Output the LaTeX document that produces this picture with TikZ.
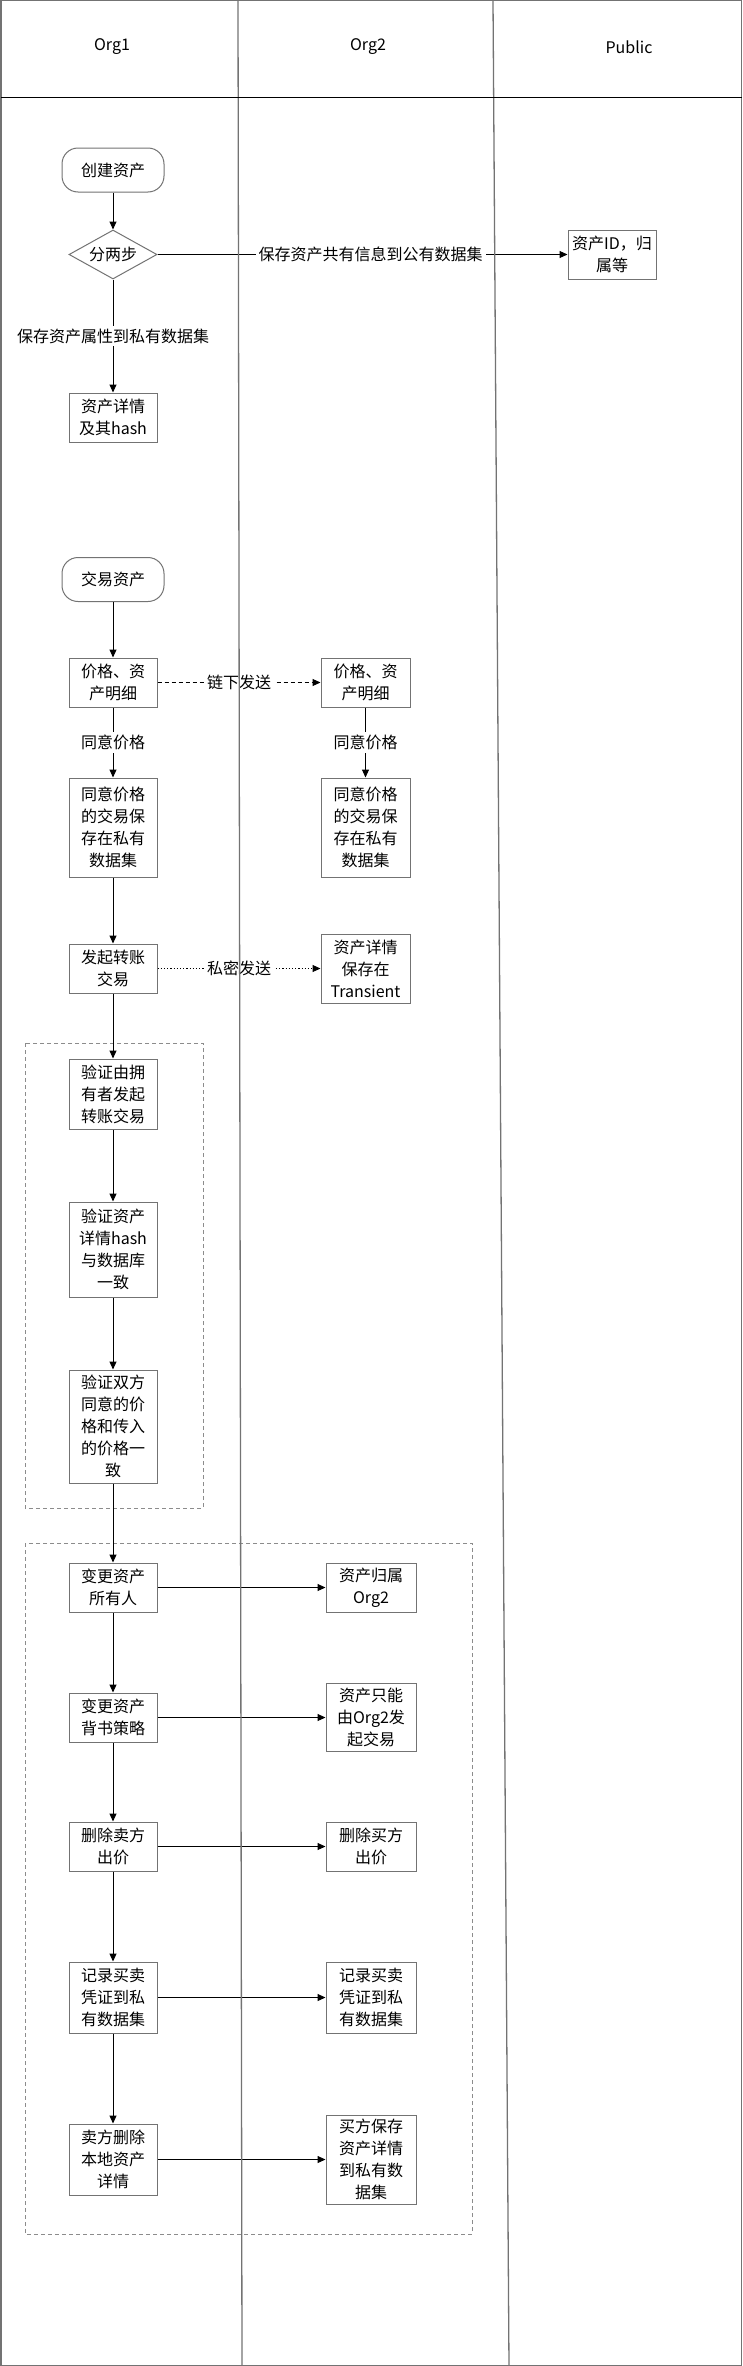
\documentclass[tikz,border=0pt]{standalone}
\usepackage{fontspec}
\setmainfont{Noto Sans CJK SC}
\usetikzlibrary{positioning}
\usetikzlibrary{arrows.meta}
\usetikzlibrary{shapes}

\begin{document}
\begin{tikzpicture}[x=1pt,y=-1pt,>={Triangle[length=8pt,width=7pt]},line width=1pt,
  task node/.style={rectangle,draw=black!55,fill=white,minimum width=88pt,align=center,inner sep=0pt,font=\fontsize{16pt}{22pt}\selectfont},
  start node/.style={task node,rounded corners=16pt,minimum width=102pt,minimum height=44pt},
  split node/.style={diamond,draw=black!55,fill=white,inner sep=0pt,aspect=1.8,minimum width=88pt,minimum height=49pt,font=\fontsize{16pt}{22pt}\selectfont},
  label node/.style={fill=white,inner sep=3pt,font=\fontsize{16pt}{22pt}\selectfont},
  group box/.style={draw=black!45,dash pattern=on 4pt off 3pt,line width=0.8pt},
  lane/.style={draw=black!55,line width=1.3pt}]
  \useasboundingbox (0,0) rectangle (743,2366);

  % dashed groups
  \draw[group box] (25,1043) rectangle (203,1508);
  \draw[group box] (25,1543) rectangle (472,2234);

  % create asset
  \node[start node] (create) at (113,170) {创建资产};
  \node[split node] (split) at (113,254.5) {分两步};
  \node[task node,minimum height=49pt] (pub) at (612,254.5) {资产ID，归\\属等};
  \node[task node,minimum height=49pt] (hash) at (113,417.5) {资产详情\\及其hash};

  % trade asset
  \node[start node] (trade) at (113,579.5) {交易资产};
  \node[task node,minimum height=49pt] (price1) at (113,682.5) {价格、资\\产明细};
  \node[task node,minimum height=49pt,minimum width=89pt] (price2) at (365.5,682.5) {价格、资\\产明细};
  \node[task node,minimum height=99pt] (agree1) at (113,827.5) {同意价格\\的交易保\\存在私有\\数据集};
  \node[task node,minimum height=99pt,minimum width=89pt] (agree2) at (365.5,827.5) {同意价格\\的交易保\\存在私有\\数据集};
  \node[task node,minimum height=49pt] (transfer) at (113,968.5) {发起转账\\交易};
  \node[task node,minimum height=69pt,minimum width=89pt] (transient) at (365.5,968.5) {资产详情\\保存在\\Transient};

  % checks
  \node[task node,minimum height=70pt] (check1) at (113,1094) {验证由拥\\有者发起\\转账交易};
  \node[task node,minimum height=95pt] (check2) at (113,1249.5) {验证资产\\详情hash\\与数据库\\一致};
  \node[task node,minimum height=113pt] (check3) at (113,1426.5) {验证双方\\同意的价\\格和传入\\的价格一\\致};

  % updates
  \node[task node,minimum height=49pt] (owner1) at (113,1587.5) {变更资产\\所有人};
  \node[task node,minimum height=49pt,minimum width=90pt] (owner2) at (371,1587.5) {资产归属\\Org2};
  \node[task node,minimum height=49pt] (policy1) at (113,1717.5) {变更资产\\背书策略};
  \node[task node,minimum height=68pt,minimum width=90pt] (policy2) at (371,1717.5) {资产只能\\由Org2发\\起交易};
  \node[task node,minimum height=49pt] (bid1) at (113,1846.5) {删除卖方\\出价};
  \node[task node,minimum height=49pt,minimum width=90pt] (bid2) at (371,1846.5) {删除买方\\出价};
  \node[task node,minimum height=71pt] (record1) at (113,1997.5) {记录买卖\\凭证到私\\有数据集};
  \node[task node,minimum height=71pt,minimum width=90pt] (record2) at (371,1997.5) {记录买卖\\凭证到私\\有数据集};
  \node[task node,minimum height=71pt] (delete1) at (113,2159.5) {卖方删除\\本地资产\\详情};
  \node[task node,minimum height=89pt,minimum width=90pt] (save2) at (371,2159.5) {买方保存\\资产详情\\到私有数\\据集};

  \path[->] (create) edge (split)
    (split) edge node[label node,pos=0.52] {保存资产共有信息到公有数据集} (pub)
    (split) edge node[label node] {保存资产属性到私有数据集} (hash)
    (trade) edge (price1)
    (price1) edge[dash pattern=on 4pt off 3pt] node[label node] {链下发送} (price2)
    (price1) edge node[label node] {同意价格} (agree1)
    (price2) edge node[label node] {同意价格} (agree2)
    (agree1) edge (transfer)
    (transfer) edge[dash pattern=on 1.2pt off 2pt] node[label node] {私密发送} (transient)
    (transfer) edge (check1)
    (check1) edge (check2)
    (check2) edge (check3)
    (check3) edge (owner1)
    (owner1) edge (owner2)
    (owner1) edge (policy1)
    (policy1) edge (policy2)
    (policy1) edge (bid1)
    (bid1) edge (bid2)
    (bid1) edge (record1)
    (record1) edge (record2)
    (record1) edge (delete1)
    (delete1) edge (save2);

  % swimlanes
  \draw[lane] (1,0.7) rectangle (741.5,2365.3);
  \draw[lane] (238,0) -- (242,2366);
  \draw[lane] (493,0) -- (509,2366);
  \draw[black] (1,97) -- (741.5,97);
  \node[font=\fontsize{16pt}{22pt}\selectfont] (org1) at (112,47) {Org1};
  \node[font=\fontsize{16pt}{22pt}\selectfont] (org2) at (368,47) {Org2};
  \node[font=\fontsize{16pt}{22pt}\selectfont] (public) at (629,47) {Public};
\end{tikzpicture}
\end{document}
